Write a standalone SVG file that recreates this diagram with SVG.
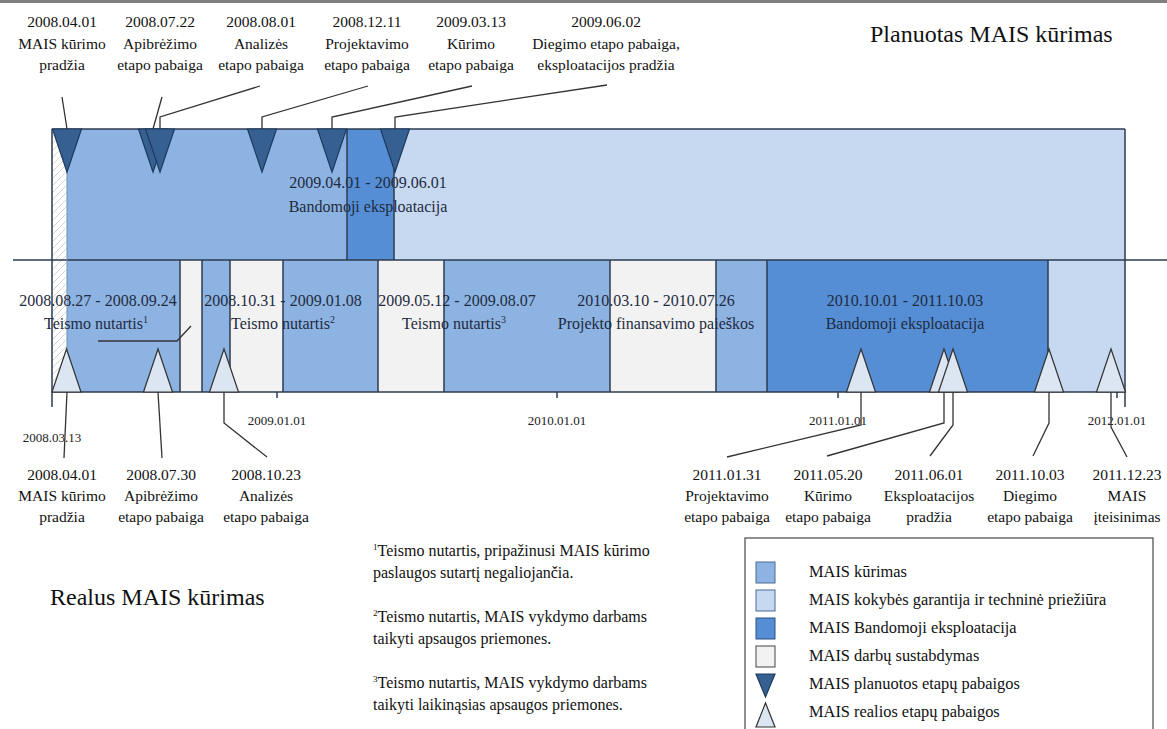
<svg xmlns="http://www.w3.org/2000/svg" width="1167" height="729" viewBox="0 0 1167 729">
<style>
text{font-family:"Liberation Serif","Times New Roman",serif;fill:#111}
.lbl{font-size:15.5px;text-anchor:middle}
.band{font-size:16px;text-anchor:middle;fill:#1f2b40}
.ax{font-size:13px;text-anchor:middle;fill:#222}
.leg{font-size:16.4px}
.fn{font-size:16px}
.title{font-size:24px}
.bd{stroke:#2d3b50;stroke-width:1.5;fill:none}
.lead{stroke:#333;stroke-width:1.3;fill:none}
.pt{fill:#376092;stroke:#1f3a5f;stroke-width:1.2}
.rt{fill:#dce6f2;stroke:#333;stroke-width:1.2}
.c1{fill:#8db3e2}.c2{fill:#c6d9f1}.c3{fill:#558ed5}.c4{fill:#f2f2f2}
</style>
<defs>
<pattern id="hatch" patternUnits="userSpaceOnUse" width="7" height="7">
<rect width="7" height="7" fill="#ffffff"/>
<path d="M-1,1 L1,-1 M0,7 L7,0 M6,8 L8,6" stroke="#d0d0d0" stroke-width="0.9"/>
</pattern>
</defs>
<rect x="0" y="0" width="1167" height="3" fill="#808080"/>
<text class="title" x="870" y="42">Planuotas MAIS kūrimas</text>
<text class="title" x="50" y="605" font-size="24.5">Realus MAIS kūrimas</text>

<g id="planned-band">
<rect x="52" y="129" width="15" height="263" fill="url(#hatch)"/>
<rect class="c1" x="67" y="129" width="280" height="131"/>
<rect class="c3" x="347" y="129" width="47" height="131"/>
<rect class="c2" x="394" y="129" width="731" height="131"/>
<text class="band" x="368" y="188">2009.04.01 - 2009.06.01</text>
<text class="band" x="368" y="212">Bandomoji eksploatacija</text>
</g>

<g id="real-band">
<rect class="c1" x="67" y="260" width="113" height="132"/>
<rect class="c4" x="180" y="260" width="22" height="132"/>
<rect class="c1" x="202" y="260" width="28" height="132"/>
<rect class="c4" x="230" y="260" width="53" height="132"/>
<rect class="c1" x="283" y="260" width="95" height="132"/>
<rect class="c4" x="378" y="260" width="66" height="132"/>
<rect class="c1" x="444" y="260" width="166" height="132"/>
<rect class="c4" x="610" y="260" width="106" height="132"/>
<rect class="c1" x="716" y="260" width="51" height="132"/>
<rect class="c3" x="767" y="260" width="281" height="132"/>
<rect class="c2" x="1048" y="260" width="77" height="132"/>
</g>

<g id="borders">
<path class="bd" d="M52,129 H1125 M13,260 H1167 M52,392 H1125 M52,129 V407 M1125,129 V407"/>
<path class="bd" d="M347,129 V260 M394,129 V260"/>
<path d="M67,129 V392" stroke="#6f8fb8" stroke-width="1" fill="none"/>
<path class="bd" d="M180,260 V392 M202,260 V392 M230,260 V392 M283,260 V392 M378,260 V392 M444,260 V392 M610,260 V392 M716,260 V392 M767,260 V392 M1048,260 V392"/>
<path class="bd" d="M277,392 V398 M557,392 V398 M838,392 V398 M1117,392 V398"/>
</g>

<g id="real-band-texts">
<text class="band" x="98" y="306">2008.08.27 - 2008.09.24</text>
<text class="band" x="96" y="329">Teismo nutartis<tspan font-size="10" dy="-6">1</tspan></text>
<text class="band" x="283" y="306">2008.10.31 - 2009.01.08</text>
<text class="band" x="283" y="329">Teismo nutartis<tspan font-size="10" dy="-6">2</tspan></text>
<text class="band" x="457" y="306">2009.05.12 - 2009.08.07</text>
<text class="band" x="454" y="329">Teismo nutartis<tspan font-size="10" dy="-6">3</tspan></text>
<text class="band" x="656" y="306">2010.03.10 - 2010.07.26</text>
<text class="band" x="656" y="329">Projekto finansavimo paieškos</text>
<text class="band" x="905" y="306">2010.10.01 - 2011.10.03</text>
<text class="band" x="905" y="329">Bandomoji eksploatacija</text>
</g>

<g id="axis-labels">
<text class="ax" x="52" y="442">2008.03.13</text>
<text class="ax" x="277" y="425">2009.01.01</text>
<text class="ax" x="557" y="425">2010.01.01</text>
<text class="ax" x="838" y="425">2011.01.01</text>
<text class="ax" x="1117" y="425">2012.01.01</text>
</g>

<g id="connectors">
<polyline class="lead" points="62,97 67,129"/>
<polyline class="lead" points="162,97 153,129"/>
<polyline class="lead" points="260,86 160,117 160,129"/>
<polyline class="lead" points="368,86 262,117 262,129"/>
<polyline class="lead" points="472,86 332,117 332,129"/>
<polyline class="lead" points="607,85 395,117 395,129"/>
<polyline class="lead" points="98,341 177,341 191,326"/>
<polyline class="lead" points="67,392 64,458"/>
<polyline class="lead" points="158,392 162,458"/>
<polyline class="lead" points="224,392 224,423 267,457"/>
<polyline class="lead" points="861,392 861,425 727,457"/>
<polyline class="lead" points="944,392 944,423 827,456"/>
<polyline class="lead" points="953,392 953,425 930,456"/>
<polyline class="lead" points="1049,392 1049,423 1033,456"/>
<polyline class="lead" points="1111,392 1111,427 1127,457"/>
</g>

<g id="planned-milestones">
<polygon class="pt" points="52.5,129 81.5,129 67,172"/>
<polygon class="pt" points="138.5,129 167.5,129 153,172"/>
<polygon class="pt" points="145.5,129 174.5,129 160,172"/>
<polygon class="pt" points="247.5,129 276.5,129 262,172"/>
<polygon class="pt" points="317.5,129 346.5,129 332,172"/>
<polygon class="pt" points="380.5,129 409.5,129 395,172"/>
</g>

<g id="real-milestones">
<polygon class="rt" points="52,392 81,392 66.5,349"/>
<polygon class="rt" points="143.5,392 172.5,392 158,349"/>
<polygon class="rt" points="209.5,392 238.5,392 224,349"/>
<polygon class="rt" points="846.5,392 875.5,392 861,349"/>
<polygon class="rt" points="929.5,392 958.5,392 944,349"/>
<polygon class="rt" points="938.5,392 967.5,392 953,349"/>
<polygon class="rt" points="1034.5,392 1063.5,392 1049,349"/>
<polygon class="rt" points="1096.5,392 1125.5,392 1111,349"/>
</g>

<g id="planned-labels">
<text class="lbl" x="62" y="27">2008.04.01</text><text class="lbl" x="62" y="49">MAIS kūrimo</text><text class="lbl" x="62" y="70">pradžia</text>
<text class="lbl" x="160" y="27">2008.07.22</text><text class="lbl" x="160" y="49">Apibrėžimo</text><text class="lbl" x="160" y="70">etapo pabaiga</text>
<text class="lbl" x="261" y="27">2008.08.01</text><text class="lbl" x="261" y="49">Analizės</text><text class="lbl" x="261" y="70">etapo pabaiga</text>
<text class="lbl" x="367" y="27">2008.12.11</text><text class="lbl" x="367" y="49">Projektavimo</text><text class="lbl" x="367" y="70">etapo pabaiga</text>
<text class="lbl" x="471" y="27">2009.03.13</text><text class="lbl" x="471" y="49">Kūrimo</text><text class="lbl" x="471" y="70">etapo pabaiga</text>
<text class="lbl" x="606" y="27">2009.06.02</text><text class="lbl" x="606" y="49">Diegimo etapo pabaiga,</text><text class="lbl" x="606" y="70">eksploatacijos pradžia</text>
</g>

<g id="real-labels">
<text class="lbl" x="62" y="480">2008.04.01</text><text class="lbl" x="62" y="501">MAIS kūrimo</text><text class="lbl" x="62" y="522">pradžia</text>
<text class="lbl" x="161" y="480">2008.07.30</text><text class="lbl" x="161" y="501">Apibrėžimo</text><text class="lbl" x="161" y="522">etapo pabaiga</text>
<text class="lbl" x="266" y="480">2008.10.23</text><text class="lbl" x="266" y="501">Analizės</text><text class="lbl" x="266" y="522">etapo pabaiga</text>
<text class="lbl" x="727" y="480">2011.01.31</text><text class="lbl" x="727" y="501">Projektavimo</text><text class="lbl" x="727" y="522">etapo pabaiga</text>
<text class="lbl" x="828" y="480">2011.05.20</text><text class="lbl" x="828" y="501">Kūrimo</text><text class="lbl" x="828" y="522">etapo pabaiga</text>
<text class="lbl" x="929" y="480">2011.06.01</text><text class="lbl" x="929" y="501">Eksploatacijos</text><text class="lbl" x="929" y="522">pradžia</text>
<text class="lbl" x="1030" y="480">2011.10.03</text><text class="lbl" x="1030" y="501">Diegimo</text><text class="lbl" x="1030" y="522">etapo pabaiga</text>
<text class="lbl" x="1127" y="480">2011.12.23</text><text class="lbl" x="1127" y="501">MAIS</text><text class="lbl" x="1127" y="522">įteisinimas</text>
</g>

<g id="footnotes">
<text class="fn" x="373" y="556"><tspan font-size="9" dy="-6">1</tspan><tspan dy="6">Teismo nutartis, pripažinusi MAIS kūrimo</tspan></text>
<text class="fn" x="373" y="578">paslaugos sutartį negaliojančia.</text>
<text class="fn" x="373" y="622"><tspan font-size="9" dy="-6">2</tspan><tspan dy="6">Teismo nutartis, MAIS vykdymo darbams</tspan></text>
<text class="fn" x="373" y="644">taikyti apsaugos priemones.</text>
<text class="fn" x="373" y="688"><tspan font-size="9" dy="-6">3</tspan><tspan dy="6">Teismo nutartis, MAIS vykdymo darbams</tspan></text>
<text class="fn" x="373" y="710">taikyti laikinąsias apsaugos priemones.</text>
</g>

<g id="legend">
<rect x="745" y="538" width="408" height="200" fill="none" stroke="#555" stroke-width="1.3"/>
<rect class="c1" x="756" y="562" width="19" height="21" stroke="#4a6a94" stroke-width="1"/>
<rect class="c2" x="756" y="590" width="19" height="21" stroke="#4a6a94" stroke-width="1"/>
<rect class="c3" x="756" y="618" width="19" height="21" stroke="#2d4f80" stroke-width="1"/>
<rect class="c4" x="756" y="646" width="19" height="21" stroke="#444" stroke-width="1"/>
<polygon class="pt" points="756,674 775,674 765.5,697"/>
<polygon class="rt" points="756,727 775,727 765.5,703"/>
<text class="leg" x="809" y="577">MAIS kūrimas</text>
<text class="leg" x="809" y="605">MAIS kokybės garantija ir techninė priežiūra</text>
<text class="leg" x="809" y="633">MAIS Bandomoji eksploatacija</text>
<text class="leg" x="809" y="661">MAIS darbų  sustabdymas</text>
<text class="leg" x="809" y="689">MAIS planuotos etapų pabaigos</text>
<text class="leg" x="809" y="717">MAIS realios etapų pabaigos</text>
</g>
</svg>
